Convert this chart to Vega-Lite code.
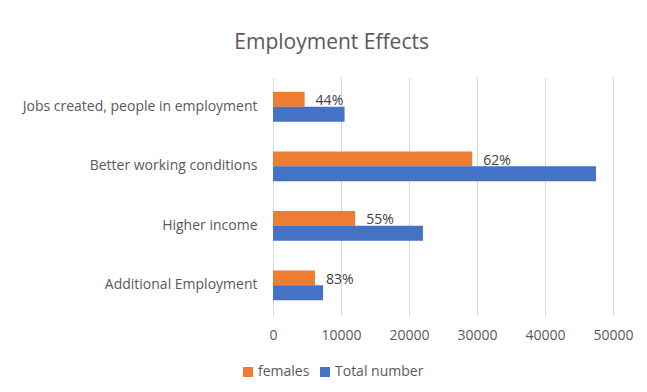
{
  "$schema": "https://vega.github.io/schema/vega-lite/v6.json",
  "width": 340,
  "height": 238,
  "autosize": {"type": "none"},
  "padding": {"left": 273, "top": 77, "right": 34, "bottom": 77},
  "background": "white",
  "title": {
    "text": "Employment Effects",
    "font": "Open Sans",
    "fontSize": 21,
    "fontWeight": "normal",
    "color": "#595959",
    "anchor": "middle",
    "frame": "bounds",
    "baseline": "alphabetic",
    "offset": 7,
    "dx": 4
  },
  "data": {
    "values": [
      {"category": "Jobs created, people in employment", "series": "females", "value": 4650, "label": "44%"},
      {"category": "Jobs created, people in employment", "series": "Total number", "value": 10520, "label": ""},
      {"category": "Better working conditions", "series": "females", "value": 29300, "label": "62%"},
      {"category": "Better working conditions", "series": "Total number", "value": 47500, "label": ""},
      {"category": "Higher income", "series": "females", "value": 12080, "label": "55%"},
      {"category": "Higher income", "series": "Total number", "value": 22050, "label": ""},
      {"category": "Additional Employment", "series": "females", "value": 6170, "label": "83%"},
      {"category": "Additional Employment", "series": "Total number", "value": 7370, "label": ""}
    ]
  },
  "encoding": {
    "y": {
      "field": "category",
      "type": "nominal",
      "sort": null,
      "title": null,
      "scale": {"paddingInner": 0.5, "paddingOuter": 0.25},
      "axis": {
        "ticks": false,
        "domain": false,
        "labelPadding": 16,
        "labelFont": "Open Sans",
        "labelFontSize": 14,
        "labelColor": "#595959",
        "labelLimit": 400
      }
    },
    "yOffset": {
      "field": "series",
      "type": "nominal",
      "sort": ["females", "Total number"],
      "scale": {"paddingInner": 0, "paddingOuter": 0}
    },
    "x": {
      "field": "value",
      "type": "quantitative",
      "title": null,
      "scale": {"domain": [0, 50000], "nice": false},
      "axis": {
        "values": [0, 10000, 20000, 30000, 40000, 50000],
        "format": "d",
        "grid": true,
        "gridColor": "#d9d9d9",
        "gridWidth": 1,
        "domain": false,
        "ticks": false,
        "labelPadding": 13,
        "labelFont": "Open Sans",
        "labelFontSize": 14,
        "labelColor": "#595959",
        "labelFlush": false
      }
    }
  },
  "layer": [
    {
      "mark": {"type": "bar"},
      "encoding": {
        "color": {
          "field": "series",
          "type": "nominal",
          "scale": {"domain": ["females", "Total number"], "range": ["#ED7D31", "#4472C4"]},
          "legend": {
            "title": null,
            "orient": "none",
            "direction": "horizontal",
            "legendX": -32,
            "legendY": 288,
            "symbolType": "square",
            "symbolSize": 100,
            "symbolStrokeWidth": 0,
            "labelFont": "Open Sans",
            "labelFontSize": 14,
            "labelColor": "#595959",
            "columnPadding": 8,
            "labelOffset": 3
          }
        }
      }
    },
    {
      "transform": [{"filter": "datum.series == 'females'"}],
      "mark": {
        "type": "text",
        "align": "left",
        "baseline": "middle",
        "dx": 11,
        "dy": 2,
        "font": "Open Sans",
        "fontSize": 14,
        "color": "#404040"
      },
      "encoding": {
        "text": {"field": "label"}
      }
    }
  ],
  "config": {
    "view": {"stroke": null}
  }
}
